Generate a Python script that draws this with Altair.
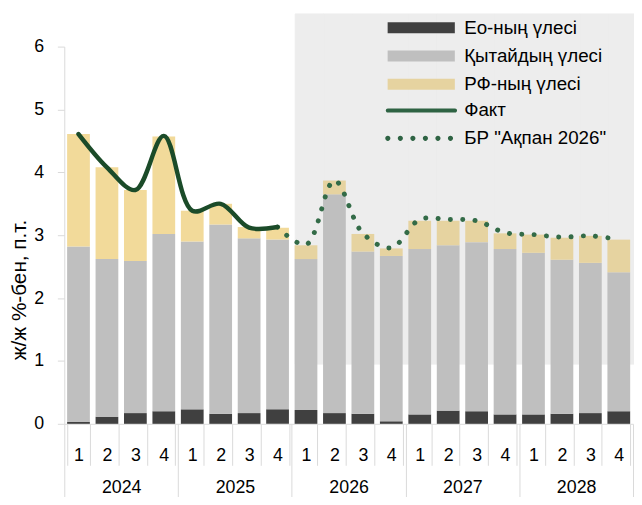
import altair as alt
import pandas as pd

# ---------------- data ----------------
years = ["2024", "2025", "2026", "2027", "2028"]
quarter_nums = ["1", "2", "3", "4"]
keys = [f"{y}-{q}" for y in years for q in quarter_nums]

ea_share = [0.03, 0.11, 0.17, 0.20, 0.23, 0.16, 0.17, 0.23, 0.22, 0.17,
            0.16, 0.04, 0.15, 0.21, 0.20, 0.15, 0.15, 0.16, 0.17, 0.20]
cn_share = [2.79, 2.51, 2.42, 2.82, 2.67, 3.01, 2.78, 2.70, 2.40, 3.48,
            2.58, 2.63, 2.63, 2.63, 2.69, 2.63, 2.57, 2.45, 2.39, 2.21]
rf_share = [1.79, 1.46, 1.13, 1.55, 0.49, 0.33, 0.18, 0.19, 0.22, 0.22,
            0.28, 0.12, 0.45, 0.39, 0.34, 0.25, 0.29, 0.35, 0.43, 0.52]

fact_values = [4.61, 4.08, 3.72, 4.58, 3.39, 3.50, 3.12, 3.13]          # 2024Q1..2025Q4
forecast_values = [3.13, 2.85, 3.87, 3.03, 2.80, 3.25, 3.25, 3.23,
                   3.04, 3.01, 2.97, 2.99, 2.93]                          # 2025Q4..2028Q4

comp_names = ["Ео-ның үлесі", "Қытайдың үлесі", "РФ-ның үлесі"]
line_names = ["Факт", 'БР "Ақпан 2026"']
n_actual = 8                      # quarters with actual data
shade_lo, shade_hi = 0.95, 6.52   # forecast-period shaded band (value units)

# ---------------- styles ----------------
FONT = "Liberation Sans"
comp_colors = ["#404040", "#BFBFBF", "#E6D3A0"]
rf_actual_color = "#F2DA9A"
fact_color = "#1B4B29"
fcst_color = "#336B47"
legend_line_color = "#2E6343"
shade_color = "#EDEDED"
axis_grey = "#D9D9D9"

# legend symbol paths (nominal symbol square = 18px, r = 9)
rect_path = "M-1,-0.63H6.56V0.63H-1Z"
line_path = "M-0.98,-0.23H6.58A0.23,0.23 0 0 1 6.58,0.23H-0.98A0.23,0.23 0 0 1 -0.98,-0.23Z"
dot_r = 0.29
dot_cx = [-0.98, 0.43, 1.84, 3.25, 4.66, 6.07]
dots_path = "".join(
    f"M{cx - dot_r:.2f},0A{dot_r},{dot_r} 0 1 0 {cx + dot_r:.2f},0A{dot_r},{dot_r} 0 1 0 {cx - dot_r:.2f},0Z"
    for cx in dot_cx
)

# ---------------- tables ----------------
bar_rows = []
for i, k in enumerate(keys):
    for j, (name, vals) in enumerate(zip(comp_names, [ea_share, cn_share, rf_share])):
        bar_rows.append({"key": k, "comp": name, "val": vals[i], "ord": j, "idx": i})
bars_df = pd.DataFrame(bar_rows)

fact_df = pd.DataFrame({"key": keys[:n_actual], "val": fact_values})
fcst_df = pd.DataFrame({"key": keys[n_actual - 1:], "val": forecast_values})
shade_df = pd.DataFrame({"key": keys[n_actual:], "val": shade_lo, "hi": shade_hi})
legend_df = pd.DataFrame({"key": keys[:2], "val": [0, 0], "series": line_names})
year_df = pd.DataFrame({"year": years})

# ---------------- scales / axes ----------------
xscale = alt.Scale(type="band", domain=keys, paddingInner=0.2, paddingOuter=0.1)
yscale = alt.Scale(domain=[0, 6], nice=False, zero=True)

x_axis = alt.Axis(
    title=None, labelExpr="split(datum.value, '-')[1]", labelAngle=0,
    tickBand="extent", tickSize=42, tickColor=axis_grey, domainColor=axis_grey,
    labelBaseline="middle", labelPadding=-10, labelFontSize=18, labelColor="#000000",
    labelFont=FONT,
)
y_axis = alt.Axis(
    title="ж/ж %-бен, п.т.", values=[0, 1, 2, 3, 4, 5, 6], format="d",
    tickSize=7, tickColor=axis_grey, domainColor=axis_grey, grid=False,
    labelFontSize=18, labelPadding=14, labelColor="#000000", labelFont=FONT,
    titleFontSize=21, titleFont=FONT, titleFontWeight="normal", titleColor="#000000",
    titleX=-45, titleY=246, titleAngle=-90, titleAlign="center", titleBaseline="middle",
)


def xq():
    return alt.X("key:N", scale=xscale, axis=x_axis)


def yv(stack=None):
    if stack:
        return alt.Y("val:Q", stack=stack, scale=yscale, axis=y_axis)
    return alt.Y("val:Q", scale=yscale, axis=y_axis)


legend_common = dict(
    title=None, orient="none", legendX=327, padding=0,
    symbolSize=324, symbolStrokeWidth=0,
    labelFontSize=19, labelFont=FONT, labelColor="#000000", labelOffset=59,
    labelLimit=400,
)

# ---------------- layers ----------------
shade = alt.Chart(shade_df).mark_bar(
    color=shade_color, stroke=shade_color, strokeWidth=1,
    width=alt.RelativeBandSize(1.25), xOffset=3.5,
).encode(x=xq(), y=yv(), y2="hi:Q")

bar_color = alt.condition(
    f"datum.comp == '{comp_names[2]}' && datum.idx < {n_actual}",
    alt.value(rf_actual_color),
    alt.Color(
        "comp:N",
        scale=alt.Scale(domain=comp_names, range=comp_colors),
        legend=alt.Legend(legendY=-28.6, symbolType=rect_path, rowPadding=8.6,
                          **legend_common),
    ),
)

bars = alt.Chart(bars_df).mark_bar().encode(
    x=xq(), y=yv("zero"), color=bar_color, order=alt.Order("ord:Q"),
)

fcst_line = alt.Chart(fcst_df).mark_line(
    interpolate="catmull-rom", color=fcst_color, strokeWidth=5,
    strokeDash=[0.1, 12.4], strokeCap="round",
).encode(x=xq(), y=yv())

fact_line = alt.Chart(fact_df).mark_line(
    interpolate="catmull-rom", color=fact_color, strokeWidth=4.5, strokeCap="round",
).encode(x=xq(), y=yv())

line_legend = alt.Chart(legend_df).transform_filter("false").mark_point(
    filled=True, color=legend_line_color, opacity=1
).encode(
    x=xq(), y=yv(),
    shape=alt.Shape(
        "series:N",
        scale=alt.Scale(domain=line_names, range=[line_path, dots_path]),
        legend=alt.Legend(legendY=55.2, symbolFillColor=legend_line_color, rowPadding=8.2,
                          **legend_common),
    ),
)

year_layer = alt.Chart(year_df).mark_point(opacity=0).encode(
    x=alt.X(
        "year:N",
        scale=alt.Scale(type="band", domain=years, paddingInner=0, paddingOuter=0),
        axis=alt.Axis(
            orient="bottom", title=None, labelAngle=0, domain=False,
            tickBand="extent", tickSize=76, tickColor=axis_grey,
            labelBaseline="middle", labelPadding=-11, labelFontSize=18,
            labelColor="#000000", labelFont=FONT,
        ),
    ),
    y=alt.value(0),
)

main = alt.layer(shade, bars, fcst_line, fact_line, line_legend)

chart = alt.layer(main, year_layer).resolve_scale(x="independent").properties(
    width=576,
    height=382,
    autosize=alt.AutoSizeParams(type="none"),
    padding={"left": 57, "top": 36, "right": 1, "bottom": 71},
).configure(font=FONT).configure_view(stroke=None)

chart.save("out.html", embed_options={"renderer": "svg", "actions": False})
